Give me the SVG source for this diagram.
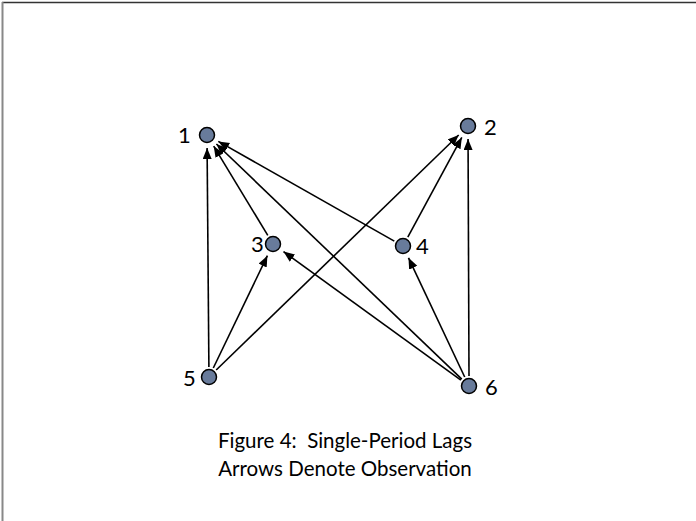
<svg xmlns="http://www.w3.org/2000/svg" width="696" height="521" viewBox="0 0 696 521">
  <style>
    .node { fill: #687b9b; stroke: #000; stroke-width: 1.5; }
    .lbl { font-family: Lato, "Open Sans", "Liberation Sans", sans-serif; font-size: 22px; fill: #000; }
    .cap { font-family: Lato, "Open Sans", "Liberation Sans", sans-serif; font-size: 20.5px; fill: #000; text-anchor: middle; white-space: pre; }
    .edge { stroke: #000; stroke-width: 1.6; fill: none; marker-end: url(#arr); }
  </style>
  <defs>
    <marker id="arr" markerUnits="userSpaceOnUse" markerWidth="12" markerHeight="10" refX="11" refY="4.5" orient="auto">
      <path d="M0,0 L11,4.5 L0,9 z" fill="#000"/>
    </marker>
  </defs>
  <rect width="696" height="521" fill="#fff"/>
  <line x1="2" y1="2.5" x2="696" y2="2.5" stroke="#333" stroke-width="1.5"/>
  <line x1="2.5" y1="2" x2="2.5" y2="521" stroke="#888" stroke-width="2"/>

  <g id="connectors">
    <line class="edge" x1="208.9" y1="367" x2="207.1" y2="148"/>
    <line class="edge" x1="267.8" y1="235.4" x2="213.7" y2="146.1"/>
    <line class="edge" x1="394.3" y1="241.1" x2="218.3" y2="141.4"/>
    <line class="edge" x1="461.8" y1="379.1" x2="216.4" y2="144"/>
    <line class="edge" x1="213.3" y1="368" x2="267.4" y2="255.7"/>
    <line class="edge" x1="216.2" y1="370" x2="458.7" y2="135"/>
    <line class="edge" x1="460.9" y1="380.1" x2="283.5" y2="251.6"/>
    <line class="edge" x1="464.7" y1="377" x2="408.5" y2="257.8"/>
    <line class="edge" x1="469" y1="376" x2="468.05" y2="139"/>
    <line class="edge" x1="407.8" y1="237.2" x2="461.8" y2="137.4"/>
  </g>

  <g id="n1"><circle class="node" cx="207" cy="135" r="7.5"/><text class="lbl" x="178" y="143">1</text></g>
  <g id="n2"><circle class="node" cx="468" cy="126" r="7.5"/><text class="lbl" x="484" y="135">2</text></g>
  <g id="n3"><circle class="node" cx="273" cy="244" r="7.5"/><text class="lbl" x="251" y="252">3</text></g>
  <g id="n4"><circle class="node" cx="403" cy="246" r="7.5"/><text class="lbl" x="416" y="254">4</text></g>
  <g id="n5"><circle class="node" cx="209" cy="377" r="7.5"/><text class="lbl" x="183" y="386">5</text></g>
  <g id="n6"><circle class="node" cx="469" cy="386" r="7.5"/><text class="lbl" x="485" y="395">6</text></g>

  <g id="caption">
    <text class="cap" x="345" y="448" xml:space="preserve">Figure 4:  Single-Period Lags</text>
    <text class="cap" x="345" y="476">Arrows Denote Observation</text>
  </g>
</svg>
